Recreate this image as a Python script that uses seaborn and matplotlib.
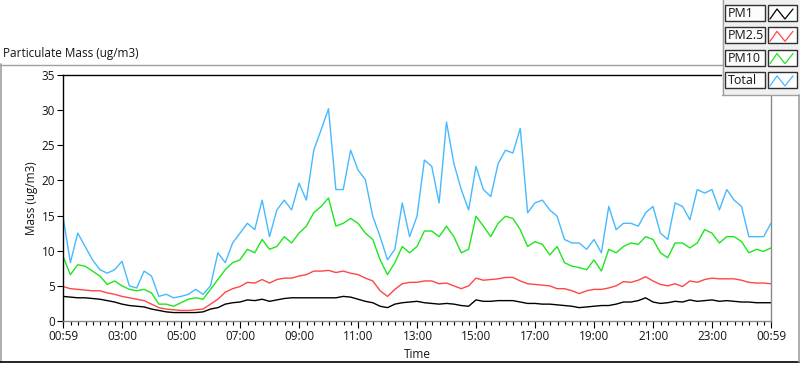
import numpy as np
import pandas as pd
import matplotlib
matplotlib.use("Agg")
import matplotlib.pyplot as plt
import seaborn as sns
from matplotlib.patches import Rectangle

# data, every 15 min from 00:59 to 00:59 next day
SERIES = ["PM1", "PM2.5", "PM10", "Total"]
COLORS = ["#000000", "#ff4646", "#1ee61e", "#46b9ff"]

pm1 = [3.5, 3.4, 3.3, 3.3, 3.2, 3.1, 2.9, 2.7, 2.4, 2.2, 2.1, 2.0, 1.7, 1.5, 1.3, 1.2,
       1.2, 1.2, 1.2, 1.3, 1.7, 1.9, 2.4, 2.6, 2.7, 3.0, 2.9, 3.1, 2.8, 3.0, 3.2, 3.3,
       3.3, 3.3, 3.3, 3.3, 3.3, 3.3, 3.5, 3.4, 3.1, 2.8, 2.6, 2.1, 1.9, 2.4, 2.6, 2.7,
       2.8, 2.6, 2.5, 2.4, 2.5, 2.4, 2.2, 2.1, 3.0, 2.8, 2.8, 2.9, 2.9, 2.9, 2.7, 2.5,
       2.5, 2.4, 2.4, 2.3, 2.2, 2.1, 1.9, 2.0, 2.1, 2.2, 2.2, 2.4, 2.7, 2.7, 2.9, 3.3,
       2.7, 2.5, 2.6, 2.8, 2.7, 3.0, 2.8, 2.9, 3.0, 2.8, 2.9, 2.8, 2.7, 2.7, 2.6, 2.6,
       2.6]
pm25 = [4.9, 4.6, 4.5, 4.4, 4.3, 4.3, 4.0, 3.8, 3.5, 3.3, 3.1, 2.9, 2.4, 1.9, 1.7, 1.6,
        1.5, 1.5, 1.6, 1.7, 2.4, 3.1, 4.1, 4.6, 4.9, 5.5, 5.4, 5.9, 5.4, 5.9, 6.1, 6.1,
        6.4, 6.6, 7.1, 7.1, 7.2, 6.9, 7.1, 6.8, 6.6, 6.1, 5.7, 4.3, 3.5, 4.5, 5.3, 5.5,
        5.5, 5.7, 5.7, 5.3, 5.4, 5.0, 4.6, 5.0, 6.1, 5.8, 5.9, 6.0, 6.2, 6.2, 5.7, 5.3,
        5.2, 5.1, 5.0, 4.6, 4.6, 4.3, 3.9, 4.3, 4.5, 4.5, 4.7, 5.0, 5.6, 5.5, 5.8, 6.3,
        5.7, 5.2, 5.0, 5.3, 4.9, 5.7, 5.5, 5.9, 6.1, 6.0, 6.0, 6.0, 5.8, 5.5, 5.4, 5.4,
        5.3]
pm10 = [9.2, 6.6, 8.0, 7.8, 7.1, 6.4, 5.2, 5.7, 5.0, 4.5, 4.3, 4.5, 4.0, 2.4, 2.4, 2.1,
        2.6, 3.1, 3.3, 3.1, 4.5, 5.9, 7.3, 8.3, 8.7, 10.2, 9.7, 11.6, 10.2, 10.6, 12.0, 11.1,
        12.5, 13.5, 15.4, 16.3, 17.5, 13.5, 13.9, 14.6, 13.9, 12.5, 11.6, 8.7, 6.6, 8.3, 10.6, 9.7,
        10.6, 12.8, 12.8, 12.0, 13.5, 12.0, 9.7, 10.2, 14.9, 13.5, 12.0, 13.9, 14.9, 14.6, 13.0, 10.6,
        11.3, 10.9, 9.4, 10.6, 8.3, 7.8, 7.6, 7.3, 8.7, 7.1, 10.2, 9.7, 10.6, 11.1, 10.9, 12.0,
        11.6, 9.7, 9.0, 11.1, 11.1, 10.4, 11.1, 13.0, 12.5, 11.1, 12.0, 12.0, 11.3, 9.7, 10.2, 9.9,
        10.4]
total = [14.9, 8.3, 12.5, 10.6, 8.7, 7.3, 6.8, 7.3, 8.5, 5.0, 4.7, 7.1, 6.4, 3.5, 3.8, 3.3,
         3.5, 3.8, 4.5, 3.8, 5.0, 9.7, 8.3, 11.1, 12.5, 13.9, 13.0, 17.2, 12.0, 15.8, 17.2, 15.8,
         19.6, 17.2, 24.3, 27.2, 30.2, 18.7, 18.7, 24.3, 21.5, 20.1, 14.9, 12.0, 8.7, 10.2, 16.8, 12.0,
         14.9, 22.9, 22.0, 16.8, 28.3, 22.4, 18.7, 15.8, 22.0, 18.7, 17.7, 22.4, 24.3, 23.9, 27.4, 15.4,
         16.8, 17.2, 15.8, 14.9, 11.6, 11.1, 11.1, 10.2, 11.6, 9.7, 16.3, 13.0, 13.9, 13.9, 13.5, 15.4,
         16.3, 12.5, 11.6, 16.8, 16.3, 14.4, 18.7, 18.2, 18.7, 15.8, 18.7, 17.2, 16.3, 12.0, 12.0, 12.0,
         13.9]

X_LABELS = ["00:59", "03:00", "05:00", "07:00", "09:00", "11:00", "13:00",
            "15:00", "17:00", "19:00", "21:00", "23:00", "00:59"]
Y_TICKS = [0, 5, 10, 15, 20, 25, 30, 35]

times = pd.date_range("2021-03-01 00:59", periods=len(total), freq="15min")
df = pd.DataFrame({
    "Time": np.tile(times, 4),
    "Mass": pm1 + pm25 + pm10 + total,
    "Series": np.repeat(SERIES, len(times)),
})

major = [pd.Timestamp("2021-03-01 " + t) for t in X_LABELS[:-1]] + [times[-1]]
minor = pd.date_range("2021-03-01 01:00", "2021-03-02 00:45", freq="15min")

sns.set_theme(style="white")
plt.rcParams["font.family"] = ["Open Sans", "DejaVu Sans"]
FS = 8.5
TXT = "#151515"

fig = plt.figure(figsize=(8, 3.65), dpi=100)
W, H = 800, 365
ax = fig.add_axes([63 / W, 1 - 321 / H, (771 - 63) / W, (321 - 75) / H])
sns.lineplot(data=df, x="Time", y="Mass", hue="Series", hue_order=SERIES,
             palette=COLORS, estimator=None, linewidth=1.0, legend=False, ax=ax)

ax.set_xlim(times[0], times[-1])
ax.set_ylim(0, 35)
ax.set_yticks(Y_TICKS)
ax.set_xticks(major)
ax.set_xticklabels(X_LABELS)
ax.set_xticks(minor, minor=True)
ax.set_xlabel("")
ax.set_ylabel("")
ax.tick_params(axis="y", left=True, length=4, width=0.8, pad=1.5,
               labelsize=FS, color="black", labelcolor=TXT)
ax.tick_params(axis="x", which="major", bottom=True, length=5, width=0.8, pad=1.5,
               labelsize=FS, color="black", labelcolor=TXT)
ax.tick_params(axis="x", which="minor", bottom=True, length=3, width=0.8, color="black")
for side, col in [("left", "black"), ("top", "black"), ("right", "#8a8a8a"), ("bottom", "#8a8a8a")]:
    ax.spines[side].set_color(col)
    ax.spines[side].set_linewidth(1.0)

# panel frame, title and legend drawn in pixel space
ov = fig.add_axes([0, 0, 1, 1], zorder=10)
ov.set_xlim(0, W)
ov.set_ylim(H, 0)
ov.axis("off")
ov.patch.set_alpha(0)

gray = "#a0a0a0"
ov.plot([0.7, 0.7], [64, 362], color=gray, lw=1.2)
ov.plot([0, 722], [64.5, 64.5], color=gray, lw=1.0)
ov.plot([0, W], [361.8, 361.8], color="black", lw=1.2)
ov.plot([798.8, 798.8], [95, 362], color=gray, lw=1.2)

ov.text(3, 54, "Particulate Mass (ug/m3)", fontsize=FS, color=TXT, va="center", ha="left")
ov.text(32, 198, "Mass (ug/m3)", fontsize=FS, color=TXT, rotation=90, va="center", ha="center")
ov.text(417, 354, "Time", fontsize=FS, color=TXT, va="center", ha="center")

ov.add_patch(Rectangle((722, 0), 78, 95, facecolor="#f0f0f0", edgecolor="none"))
ov.plot([722.5, 722.5], [0, 95], color=gray, lw=1.0)
ov.plot([722, W], [95, 95], color=gray, lw=1.0)
zig_x = [2, 9, 17, 25]
zig_y = [12, 2, 12, 2]
for i, (name, col) in enumerate(zip(SERIES, COLORS)):
    top = 5 + i * 22.3
    ov.add_patch(Rectangle((725, top), 40, 16, facecolor="#fcfcfc",
                           edgecolor="#303030", lw=1.0))
    ov.add_patch(Rectangle((768, top), 29, 16, facecolor="white",
                           edgecolor="#303030", lw=1.0))
    ov.text(728, top + 8.5, name, fontsize=FS + 0.5, color=TXT, va="center", ha="left")
    ov.plot([768 + dx for dx in zig_x], [top + 2 + dy for dy in zig_y], color=col, lw=0.9)

fig.savefig("out.png", dpi=100)
